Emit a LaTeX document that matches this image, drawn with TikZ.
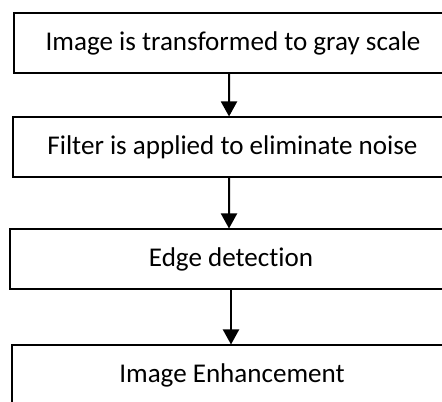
\documentclass[tikz,border=0pt]{standalone}
\usepackage{fontspec}
\setmainfont[Ligatures=NoCommon]{Carlito}
\usetikzlibrary{arrows.meta}

\tikzset{
  stepbox/.style={draw=black, line width=0.8pt, rectangle, minimum height=45pt,
    inner sep=0pt, font=\fontsize{20.3}{24}\selectfont},
  flow/.style={line width=1.5pt, -{Triangle[length=11.25pt,width=12pt]}}
}

\begin{document}
\begin{tikzpicture}[x=0.75pt, y=-0.75pt]
			%%%%% START %%%%%
			
			\useasboundingbox (0, 0) rectangle (442, 401);
			\clip (0, 0) rectangle (442, 401);
			
			\node[stepbox, minimum width=328.5pt] (gray) at (233, 43) {Image is transformed to gray scale};
			\node[stepbox, minimum width=329.25pt] (filter) at (232.5, 147) {Filter is applied to eliminate noise};
			\node[stepbox, minimum width=331.5pt] (edge) at (231, 259) {Edge detection};
			\node[stepbox, minimum width=330pt] (enhance) at (232, 375) {Image Enhancement};
			
			\draw[flow] ([xshift=-3pt]gray.south) -- ([xshift=-2.6pt]filter.north);
			\draw[flow] ([xshift=-2.6pt]filter.south) -- ([xshift=-1.5pt]edge.north);
			\draw[flow] ([xshift=0pt]edge.south) -- ([xshift=-0.75pt]enhance.north);
			
			%%%%% END %%%%%
		\end{tikzpicture}
\end{document}
